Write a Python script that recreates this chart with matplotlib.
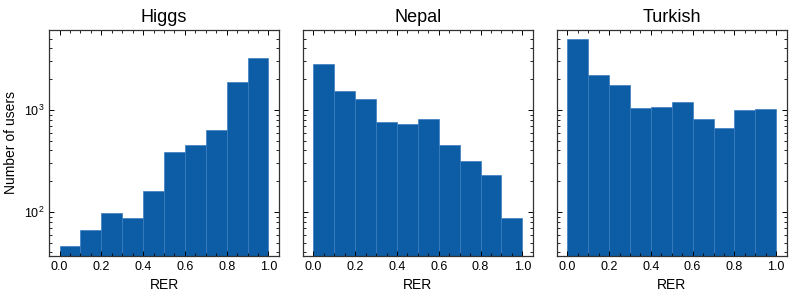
import matplotlib.pyplot as plt
import numpy as np
from matplotlib.ticker import MultipleLocator

plt.rcParams['font.family'] = ['Liberation Sans', 'DejaVu Sans']

bins = np.linspace(0, 1, 11)
datasets = ["Higgs", "Nepal", "Turkish"]
higgs = [46, 66, 98, 87, 160, 387, 454, 632, 1896, 3212]
nepal = [2845, 1525, 1273, 762, 734, 816, 451, 316, 231, 87]
turkish = [4930, 2203, 1746, 1047, 1063, 1198, 810, 661, 1000, 1016]
counts = [higgs, nepal, turkish]

fig, axes = plt.subplots(1, 3, figsize=(7.93, 2.99), dpi=100, sharey=True)
fig.subplots_adjust(left=0.062, right=0.992, bottom=0.144, top=0.9, wspace=0.105)

for ax, name, c in zip(axes, datasets, counts):
    ax.hist(bins[:-1], bins=bins, weights=c, color="#0C5DA5",
            edgecolor="#3a7dc0", linewidth=0.5)
    ax.set_yscale("log")
    ax.set_title(name, fontsize=13)
    ax.set_xlabel("RER", fontsize=10)
    ax.set_xlim(-0.05, 1.05)
    ax.set_xticks(np.arange(0, 1.01, 0.2))
    ax.xaxis.set_minor_locator(MultipleLocator(0.05))
    ax.tick_params(which="both", direction="in", top=True, right=True, labelsize=9)
    ax.tick_params(which="major", length=3.5, width=0.7)
    ax.tick_params(which="minor", length=2, width=0.6)
    for s in ax.spines.values():
        s.set_linewidth(0.9)
        s.set_color("0.2")

axes[0].set_ylim(37, 6080)
axes[0].set_ylabel("Number of users", fontsize=10)

fig.savefig("out.png")
